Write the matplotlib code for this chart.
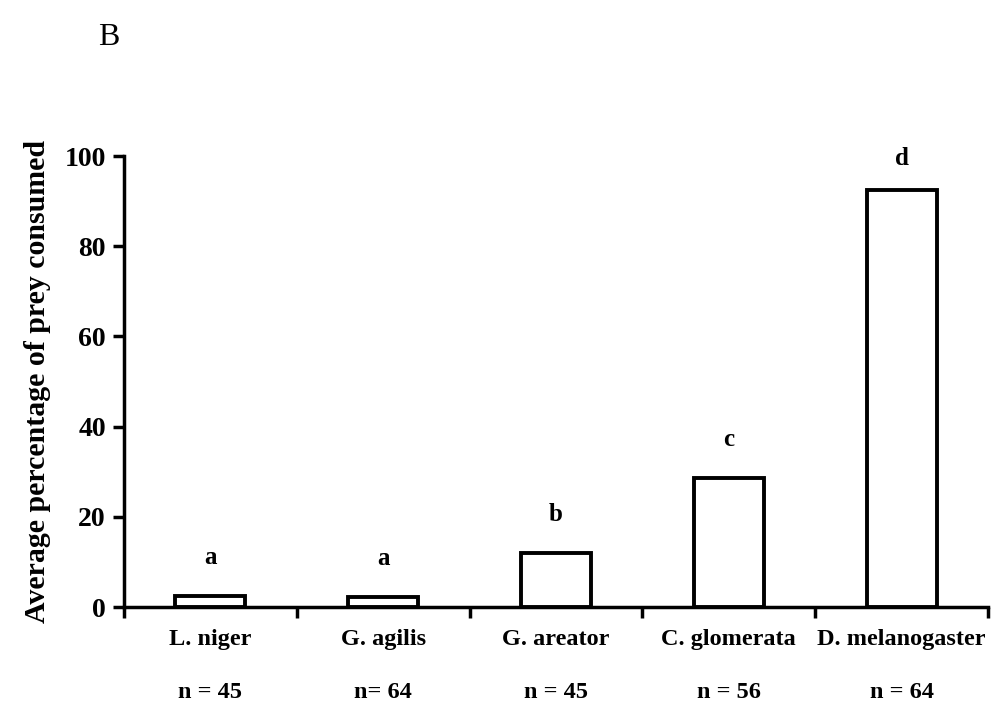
import numpy as np
import matplotlib
matplotlib.use("Agg")
import matplotlib.pyplot as plt

plt.rcParams['font.family'] = ['Liberation Serif', 'DejaVu Serif']

# Data
species = ['L. niger', 'G. agilis', 'G. areator', 'C. glomerata', 'D. melanogaster']
sample_sizes = ['n = 45', 'n= 64', 'n = 45', 'n = 56', 'n = 64']
consumed = [2.4, 2.2, 12.0, 28.5, 92.5]
groups = ['a', 'a', 'b', 'c', 'd']
yticks = [0, 20, 40, 60, 80, 100]

fig = plt.figure(figsize=(10.02, 7.07), dpi=100)
ax = fig.add_axes([0.1238, 0.1414, 0.8622, 0.6379])

x = np.arange(len(species)) + 0.5
ax.bar(x, consumed, width=0.405, facecolor='white', edgecolor='black', linewidth=2.8, zorder=3)

# significance letters
for xi, v, g in zip(x, consumed, groups):
    ax.text(xi, min(v + 8.6, 99.5), g, ha='center', va='center', fontsize=18, fontweight='bold',
            clip_on=False)

ax.set_xlim(0, len(species))
ax.set_ylim(0, 100)
ax.set_xticks(np.arange(len(species) + 1))
ax.set_xticklabels([])
ax.set_yticks(yticks)
ax.set_yticklabels([str(t) for t in yticks], fontsize=20, fontweight='bold')
ax.tick_params(axis='both', direction='out', length=8, width=2.5, pad=5)

# species names and sample sizes under each bar
for xi, sp, n in zip(x, species, sample_sizes):
    ax.text(xi, -0.072, sp, transform=ax.get_xaxis_transform(), ha='center', va='center',
            fontsize=17.5, fontweight='bold')
    ax.text(xi, -0.19, n, transform=ax.get_xaxis_transform(), ha='center', va='center',
            fontsize=17.5, fontweight='bold')

for side in ['top', 'right']:
    ax.spines[side].set_visible(False)
for side in ['left', 'bottom']:
    ax.spines[side].set_linewidth(2.5)

ax.set_ylabel('Average percentage of prey consumed', fontsize=21.5, fontweight='bold', labelpad=10)

fig.text(0.098, 0.947, 'B', fontsize=23, ha='left', va='center')

fig.savefig('out.png', dpi=100)
